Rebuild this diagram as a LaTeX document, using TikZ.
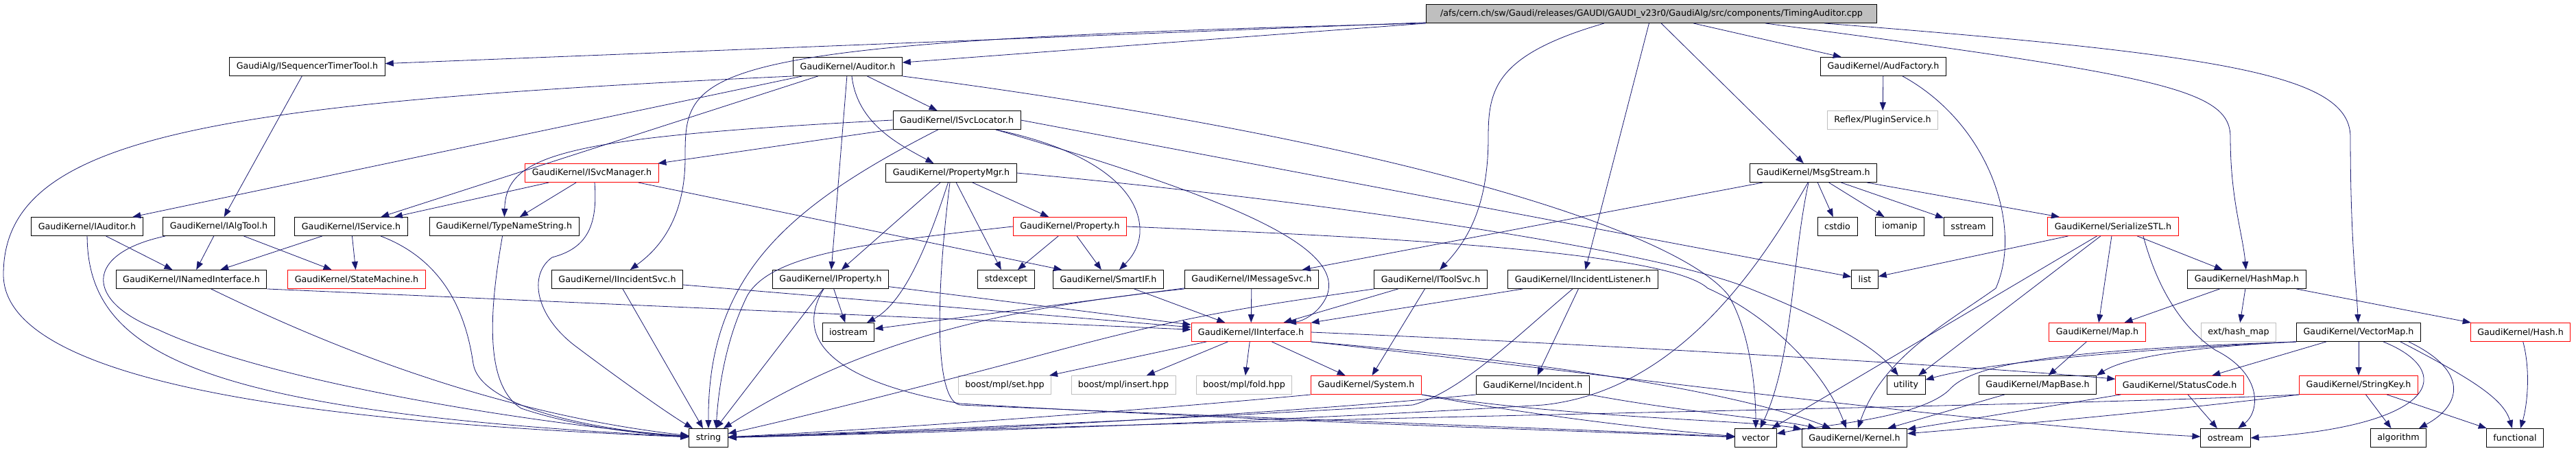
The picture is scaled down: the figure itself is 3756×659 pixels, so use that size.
\documentclass[tikz,border=0pt]{standalone}
\usepackage{fontspec}
\setmainfont{DejaVu Sans}
\usetikzlibrary{arrows.meta}
\definecolor{depblue}{RGB}{25,25,112}
\definecolor{boxgrey}{RGB}{191,191,191}
\tikzset{
  incbox/.style={draw=black,line width=0.9pt,minimum height=27pt,inner xsep=10pt,inner ysep=0pt,font=\fontsize{12.7}{14}\selectfont},
  redbox/.style={incbox,draw=red},
  extbox/.style={incbox,draw=boxgrey},
  rootbox/.style={incbox,fill=boxgrey,minimum width=657pt},
  dep/.style={draw=depblue,line width=0.8pt,-{Triangle[length=12pt,width=9pt]}}
}
\begin{document}
\begin{tikzpicture}[x=1pt,y=-1pt]
\useasboundingbox (0,0) rectangle (3756,659);
% the file
\node[rootbox] (root) at (2408,20) {/afs/cern.ch/sw/Gaudi/releases/GAUDI/GAUDI\_v23r0/GaudiAlg/src/components/TimingAuditor.cpp};
% rank 1
\foreach \n/\x/\s/\lbl in {seqtool/448/incbox/{GaudiAlg/ISequencerTimerTool.h},
  auditor/1236/incbox/{GaudiKernel/Auditor.h}, audfactory/2746/incbox/{GaudiKernel/AudFactory.h}}
  \node[\s] (\n) at (\x,97) {\lbl};
% rank 2
\foreach \n/\x/\s/\lbl in {svclocator/1395/incbox/{GaudiKernel/ISvcLocator.h},
  pluginsvc/2745/extbox/{Reflex/PluginService.h}}
  \node[\s] (\n) at (\x,175) {\lbl};
% rank 3
\foreach \n/\x/\s/\lbl in {svcmanager/863/redbox/{GaudiKernel/ISvcManager.h},
  propertymgr/1387/incbox/{GaudiKernel/PropertyMgr.h}, msgstream/2644/incbox/{GaudiKernel/MsgStream.h}}
  \node[\s] (\n) at (\x,252) {\lbl};
% rank 4
\foreach \n/\x/\s/\lbl in {iauditor/127/incbox/{GaudiKernel/IAuditor.h},
  ialgtool/319/incbox/{GaudiKernel/IAlgTool.h}, iservice/512/incbox/{GaudiKernel/IService.h},
  typename/735/incbox/{GaudiKernel/TypeNameString.h}, property/1560/redbox/{GaudiKernel/Property.h},
  stdcstdio/2679/incbox/{cstdio}, stdiomanip/2770/incbox/{iomanip}, stdsstream/2870/incbox/{sstream},
  serialize/3081/redbox/{GaudiKernel/SerializeSTL.h}}
  \node[\s] (\n) at (\x,330) {\lbl};
% rank 5
\foreach \n/\x/\s/\lbl in {inamed/279/incbox/{GaudiKernel/INamedInterface.h},
  statemachine/520/redbox/{GaudiKernel/StateMachine.h}, iincsvc/900/incbox/{GaudiKernel/IIncidentSvc.h},
  iproperty/1211/incbox/{GaudiKernel/IProperty.h}, stdexcept/1467/incbox/{stdexcept},
  smartif/1616/incbox/{GaudiKernel/SmartIF.h}, imsgsvc/1825/incbox/{GaudiKernel/IMessageSvc.h},
  itoolsvc/2086/incbox/{GaudiKernel/IToolSvc.h}, iinclistener/2308/incbox/{GaudiKernel/IIncidentListener.h},
  stdlist/2719/incbox/{list}, hashmap/3276/incbox/{GaudiKernel/HashMap.h}}
  \node[\s] (\n) at (\x,407) {\lbl};
% rank 6
\foreach \n/\x/\s/\lbl in {stdiostream/1237/incbox/{iostream},
  iinterface/1824/redbox/{GaudiKernel/IInterface.h}, map/3058/redbox/{GaudiKernel/Map.h},
  exthashmap/3264/extbox/{ext/hash\_map}, vectormap/3439/incbox/{GaudiKernel/VectorMap.h},
  hash/3675/redbox/{GaudiKernel/Hash.h}}
  \node[\s] (\n) at (\x,484) {\lbl};
% rank 7
\foreach \n/\x/\s/\lbl in {mplset/1465/extbox/{boost/mpl/set.hpp},
  mplinsert/1638/extbox/{boost/mpl/insert.hpp}, mplfold/1814/extbox/{boost/mpl/fold.hpp},
  system/1992/redbox/{GaudiKernel/System.h}, incident/2235/incbox/{GaudiKernel/Incident.h},
  stdutility/2779/incbox/{utility}, mapbase/2971/incbox/{GaudiKernel/MapBase.h},
  statuscode/3178/redbox/{GaudiKernel/StatusCode.h}, stringkey/3439/redbox/{GaudiKernel/StringKey.h}}
  \node[\s] (\n) at (\x,561) {\lbl};
% rank 8
\foreach \n/\x/\s/\lbl in {stdstring/1033/incbox/{string}, stdvector/2560/incbox/{vector},
  kernel/2704/incbox/{GaudiKernel/Kernel.h}, stdostream/3245/incbox/{ostream},
  stdalgorithm/3497/incbox/{algorithm}, stdfunctional/3667/incbox/{functional}}
  \node[\s] (\n) at (\x,638) {\lbl};

% straight includes
\foreach \a/\b in {root/seqtool, root/audfactory, root/msgstream, root/iinclistener,
  seqtool/ialgtool, auditor/svclocator, auditor/iproperty, auditor/iauditor, auditor/iservice,
  audfactory/pluginsvc, svclocator/svcmanager,
  propertymgr/property, propertymgr/stdexcept, propertymgr/iproperty,
  property/stdexcept, property/smartif,
  iauditor/inamed, ialgtool/inamed, ialgtool/statemachine, iservice/inamed, iservice/statemachine,
  svcmanager/iservice, svcmanager/typename, svcmanager/smartif,
  iincsvc/stdstring, iincsvc/iinterface, iproperty/stdiostream, iproperty/iinterface, iproperty/stdstring,
  smartif/iinterface, imsgsvc/iinterface, imsgsvc/stdiostream, itoolsvc/iinterface, itoolsvc/system,
  iinclistener/iinterface, iinclistener/incident,
  iinterface/mplset, iinterface/mplinsert, iinterface/mplfold, iinterface/system,
  msgstream/imsgsvc, msgstream/stdcstdio, msgstream/stdiomanip, msgstream/stdsstream, msgstream/serialize,
  serialize/stdlist, serialize/map, serialize/hashmap, serialize/stdutility, serialize/stdvector,
  hashmap/map, hashmap/exthashmap, hashmap/hash, map/mapbase, mapbase/kernel,
  statuscode/stdostream, statuscode/kernel, stringkey/stdalgorithm, stringkey/stdfunctional,
  vectormap/stringkey, vectormap/statuscode}
  \draw[dep] (\a) -- (\b);
\draw[dep] (root.south west) -- (auditor);
\draw[dep] (svclocator.east) -- (stdlist);
\draw[dep] (inamed.south east) -- (iinterface);

% curved includes from the file
\draw[dep] (root.south west) .. controls (1000,60) and (999,100) .. (999,230) .. controls (999,330) and (950,370) .. (iincsvc);
\draw[dep] ([xshift=-69pt]root.south) .. controls (2180,80) and (2170,130) .. (2170,200) .. controls (2170,300) and (2140,350) .. (itoolsvc);
\draw[dep] ([xshift=166pt]root.south) .. controls (3150,110) and (3252,130) .. (3252,200) .. controls (3252,290) and (3270,340) .. (hashmap);
\draw[dep] ([xshift=252pt]root.south) .. controls (3250,80) and (3427,110) .. (3427,200) .. controls (3427,350) and (3436,420) .. (vectormap);
% Auditor.h
\draw[dep] ([xshift=6pt]auditor.south) .. controls (1250,180) and (1310,210) .. (propertymgr);
\draw[dep] (auditor.south west) .. controls (300,150) and (5,200) .. (5,400) .. controls (5,580) and (600,620) .. (stdstring);
\draw[dep] (auditor.south east) .. controls (2000,200) and (2440,330) .. (2520,430) .. controls (2550,480) and (2560,560) .. (stdvector);
\draw[dep] ([xshift=28pt]audfactory.south) .. controls (2900,180) and (2950,330) .. (2910,420) .. controls (2840,470) and (2745,520) .. (kernel);
% ISvcLocator.h
\draw[dep] (svclocator.west) .. controls (820,200) and (738,225) .. (typename);
\draw[dep] (svclocator) .. controls (1150,300) and (1032,400) .. (stdstring);
\draw[dep] ([xshift=57pt]svclocator.south) .. controls (1600,220) and (1665,280) .. (1662,340) .. controls (1660,365) and (1645,380) .. ([xshift=16pt]smartif.north);
\draw[dep] ([xshift=57pt]svclocator.south) .. controls (1800,290) and (1960,360) .. (1935,430) .. controls (1925,455) and (1900,468) .. ([xshift=54pt]iinterface.north);
% PropertyMgr.h and Property.h
\draw[dep] (propertymgr) .. controls (1355,350) and (1320,440) .. ([xshift=27pt]stdiostream.north);
\draw[dep] ([xshift=-2pt]propertymgr.south) .. controls (1362,450) and (1365,585) .. (1400,590) .. controls (1900,612) and (2300,625) .. (stdvector);
\draw[dep] (propertymgr.east) .. controls (1900,290) and (2400,360) .. (2550,420) .. controls (2650,460) and (2730,500) .. (stdutility);
\draw[dep] (property.west) .. controls (1250,355) and (1125,372) .. (1090,430) .. controls (1060,490) and (1048,560) .. ([xshift=11pt]stdstring.north);
\draw[dep] (property.east) .. controls (2000,345) and (2430,365) .. (2490,420) .. controls (2580,460) and (2660,540) .. ([xshift=-12pt]kernel.north);
% down to string
\draw[dep] (iauditor) .. controls (128,520) and (300,600) .. (stdstring);
\draw[dep] ([xshift=-78pt]ialgtool.south) .. controls (120,370) and (125,440) .. (230,480) .. controls (400,560) and (800,620) .. (stdstring);
\draw[dep] ([xshift=43pt]iservice.south) .. controls (650,380) and (680,460) .. (690,530) .. controls (700,590) and (850,625) .. (stdstring);
\draw[dep] (inamed) .. controls (450,490) and (700,600) .. (stdstring);
\draw[dep] (typename) .. controls (714,450) and (705,560) .. (760,595) .. controls (850,625) and (950,633) .. (stdstring);
\draw[dep] ([xshift=4pt]svcmanager.south) .. controls (872,330) and (855,362) .. (805,375) .. controls (770,400) and (780,460) .. (840,505) .. controls (900,550) and (970,600) .. (stdstring);
\draw[dep] ([xshift=-10pt]iproperty.south) .. controls (1165,480) and (1185,550) .. (1400,588) .. controls (1800,612) and (2300,628) .. (stdvector);
\draw[dep] (imsgsvc.south west) .. controls (1450,450) and (1250,500) .. (stdstring);
\draw[dep] (itoolsvc.south west) .. controls (1800,450) and (1720,462) .. (1500,522) .. controls (1300,575) and (1150,612) .. (stdstring);
\draw[dep] ([xshift=-15pt]iinclistener.south) .. controls (2200,500) and (2130,570) .. (2060,590) .. controls (1700,612) and (1300,628) .. (stdstring);
% IInterface.h
\draw[dep] (iinterface.east) .. controls (2300,500) and (2900,535) .. (statuscode);
\draw[dep] (iinterface.south east) .. controls (2300,540) and (2900,620) .. (stdostream);
\draw[dep] (iinterface.south east) .. controls (2300,530) and (2560,580) .. (kernel);
% System.h and Incident.h
\draw[dep] (system.south west) .. controls (1700,595) and (1300,625) .. (stdstring);
\draw[dep] (system.south east) .. controls (2200,600) and (2400,625) .. (stdvector);
\draw[dep] (system.south east) .. controls (2300,610) and (2550,612) .. (kernel);
\draw[dep] (incident.south west) .. controls (1900,600) and (1400,630) .. (stdstring);
\draw[dep] (incident.south east) .. controls (2450,600) and (2600,612) .. (kernel);
% MsgStream.h and SerializeSTL.h
\draw[dep] (msgstream) .. controls (2560,400) and (2440,570) .. (2250,590) .. controls (1900,612) and (1400,630) .. (stdstring);
\draw[dep] ([xshift=-7pt]msgstream.south) .. controls (2612,380) and (2615,520) .. (stdvector);
\draw[dep] ([xshift=44pt]serialize.south) .. controls (3140,400) and (3170,470) .. (3230,510) .. controls (3300,545) and (3295,600) .. (stdostream);
\draw[dep] (hash) .. controls (3690,540) and (3685,590) .. ([xshift=8pt]stdfunctional.north);
% VectorMap.h
\draw[dep] ([xshift=36pt]vectormap.south) .. controls (3580,540) and (3560,620) .. (stdostream.east);
\draw[dep] ([xshift=73pt]vectormap.south) .. controls (3600,540) and (3590,590) .. ([xshift=30pt]stdalgorithm.north);
\draw[dep] ([xshift=61pt]vectormap.south) .. controls (3600,550) and (3650,580) .. (stdfunctional);
\draw[dep] (vectormap.south west) .. controls (3200,505) and (3100,520) .. (mapbase.north east);
\draw[dep] (vectormap.south west) .. controls (3100,510) and (2900,528) .. (stdutility);
\draw[dep] (vectormap.south west) .. controls (3000,510) and (2880,530) .. (2845,565) .. controls (2805,610) and (2650,620) .. (stdvector);
% StringKey.h
\draw[dep] (stringkey.south west) .. controls (3000,592) and (2000,605) .. (stdstring);
\draw[dep] (stringkey.south west) .. controls (3150,600) and (2900,622) .. (kernel);
\end{tikzpicture}
\end{document}
